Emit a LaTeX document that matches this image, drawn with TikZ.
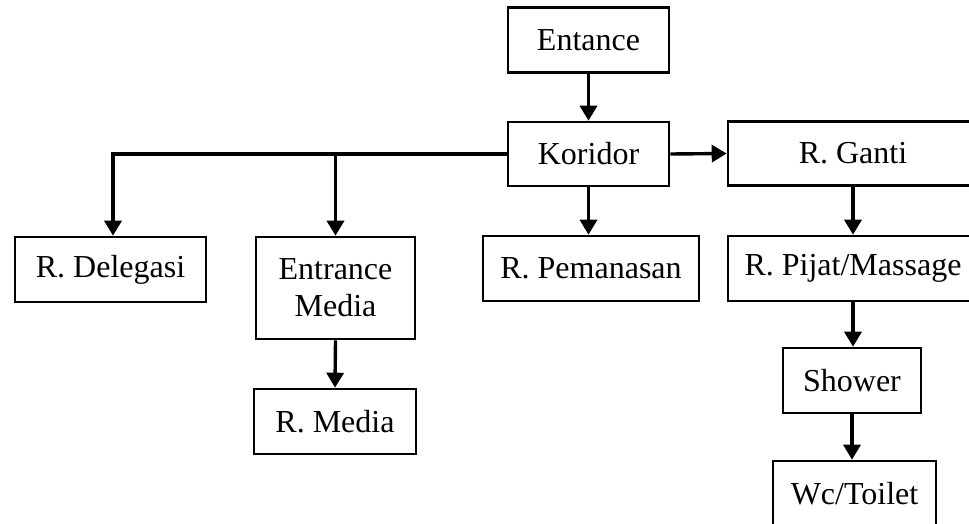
\documentclass[tikz,border=0pt]{standalone}
\usepackage{fontspec}
\setmainfont{Liberation Serif}
\usepackage{tikz}
\usetikzlibrary{arrows.meta}
\tikzstyle{roombox} = [draw=black, fill=white, line width=2.6pt,
    rectangle, align=center, inner sep=0pt,
    font=\fontsize{32}{37}\selectfont]
\tikzstyle{flowline} = [line width=3.4pt, -{Triangle[width=17pt,length=15pt]}]

\begin{document}
\begin{tikzpicture}[x=1pt,y=-1pt]
\useasboundingbox (0,0) rectangle (969,524);
% boxes
\node [roombox, minimum width=161pt, minimum height=65pt] (ent) at (588.5,40) {Entance};
\node [roombox, minimum width=161pt, minimum height=64pt] (kor) at (588.5,154) {Koridor};
\node [roombox, minimum width=250pt, minimum height=64pt] (ganti) at (853,153.5) {R. Ganti};
\node [roombox, minimum width=191pt, minimum height=65pt] (deleg) at (110.5,269.5) {R. Delegasi};
\node [roombox, minimum width=159pt, minimum height=102pt] (emedia) at (335.5,288) {Entrance\\Media};
\node [roombox, minimum width=216pt, minimum height=65pt] (pemanasan) at (591,268.5) {R. Pemanasan};
\node [roombox, minimum width=250pt, minimum height=65pt] (pijat) at (853,268.5) {R. Pijat/Massage};
\node [roombox, minimum width=162pt, minimum height=65pt] (rmedia) at (335,421.5) {R. Media};
\node [roombox, minimum width=138pt, minimum height=65pt] (shower) at (852,380.5) {Shower};
\node [roombox, minimum width=163pt, minimum height=66pt] (wc) at (854.5,494) {Wc/Toilet};
% connectors
\draw [flowline] (ent.south) -- (kor.north);
\draw [flowline] (kor.east) -- (ganti.west);
\draw [flowline] (kor.west) -| ([xshift=2.5pt]deleg.north);
\draw [flowline] (kor.west -| emedia.north) -- (emedia.north);
\draw [flowline] (kor.south) -- (kor.south |- pemanasan.north);
\draw [flowline] (emedia.south) -- (rmedia.north);
\draw [flowline] (ganti.south) -- (pijat.north);
\draw [flowline] (pijat.south) -- (pijat.south |- shower.north);
\draw [flowline] (shower.south) -- (shower.south |- wc.north);
\end{tikzpicture}
\end{document}
